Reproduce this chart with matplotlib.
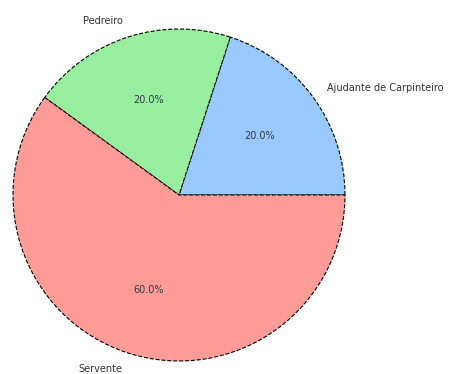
import matplotlib
matplotlib.use("Agg")
import matplotlib.pyplot as plt

# Workers by role
labels = ["Ajudante de Carpinteiro", "Pedreiro", "Servente"]
counts = [1, 1, 3]
colors = ["#99c9ff", "#98ee9f", "#ff9c97"]

fig = plt.figure(figsize=(4.52, 3.74), dpi=100)
ax = fig.add_axes([13 / 452, 13 / 374, 332 / 452, 332 / 374])

wedges, texts, autotexts = ax.pie(
    counts,
    labels=labels,
    colors=colors,
    autopct="%1.1f%%",
    startangle=0,
    wedgeprops={"edgecolor": "black", "linestyle": "--", "linewidth": 0.8},
    textprops={"fontsize": 7, "color": "#333333"},
)
for t in autotexts:
    t.set_color("#333a48")

ax.set_xlim(-1, 1)
ax.set_ylim(-1, 1)
ax.set_aspect("equal")

plt.savefig("out.png", dpi=100)
